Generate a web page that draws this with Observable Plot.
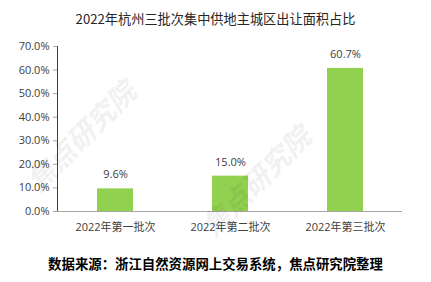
<!DOCTYPE html>
<html><head><meta charset="utf-8">
<script src="https://cdn.jsdelivr.net/npm/d3@7"></script>
<script src="https://cdn.jsdelivr.net/npm/@observablehq/plot@0.6"></script>
<style>
body{margin:0;background:#fff;font-family:"Open Sans","Noto Sans CJK SC",sans-serif;}
#wrap{position:relative;width:431px;height:282px;overflow:hidden;}
#title{position:absolute;top:0;left:0;width:431px;height:36px;line-height:38px;text-align:center;font-size:13.2px;color:#262626;font-family:"Noto Sans CJK SC","Open Sans",sans-serif;}
#chart{position:absolute;top:36px;left:0;}
#caption{position:absolute;top:244px;left:0;width:431px;height:38px;line-height:38px;text-align:center;font-size:13.4px;font-weight:bold;color:#000;font-family:"Noto Sans CJK SC",sans-serif;}
.wm{position:absolute;font-family:"Noto Sans CJK SC",sans-serif;font-weight:bold;font-style:italic;color:#000;opacity:0.05;font-size:28px;transform:rotate(-45deg);white-space:nowrap;pointer-events:none;}
</style></head>
<body>
<div id="wrap">
<div id="title">2022年杭州三批次集中供地主城区出让面积占比</div>
<div id="chart"></div>
<div id="caption">数据来源：浙江自然资源网上交易系统，焦点研究院整理</div>
<div class="wm" style="left:10px;top:115px;">焦点研究院</div>
<div class="wm" style="left:185px;top:160px;">焦点研究院</div>
</div>
<script>
const categories = ["2022年第一批次","2022年第二批次","2022年第三批次"];
const values = [0.096, 0.150, 0.607];
const valueLabels = ["9.6%","15.0%","60.7%"];
const yTicks = [0,0.1,0.2,0.3,0.4,0.5,0.6,0.7];

const data = categories.map((c,i)=>({cat:c, value:values[i], label:valueLabels[i]}));

const chart = Plot.plot({
  width:431, height:206,
  marginTop:10, marginBottom:31, marginLeft:57, marginRight:29,
  style:{fontFamily:'"Open Sans","Noto Sans CJK SC",sans-serif', fontSize:"11px", color:"#404040", background:"transparent"},
  x:{domain:categories, paddingInner:0.69, paddingOuter:0.345, label:null, tickSize:0, tickPadding:12},
  y:{domain:[0,0.7], ticks:yTicks, tickFormat:d=>(d*100).toFixed(1)+"%", label:null, tickSize:4, tickPadding:4, line:true},
  marks:[
    Plot.barY(data,{x:"cat", y:"value", fill:"#92D050"}),
    Plot.ruleY([0],{stroke:"#a6a6a6"}),
    Plot.text(data,{x:"cat", y:"value", text:"label", dy:-14, fill:"#404040", fontSize:11})
  ]
});
chart.querySelectorAll('[aria-label="y-axis tick"], [aria-label="y-axis line"]').forEach(g=>g.setAttribute("stroke","#a6a6a6"));
document.getElementById("chart").appendChild(chart);
</script>
</body></html>
